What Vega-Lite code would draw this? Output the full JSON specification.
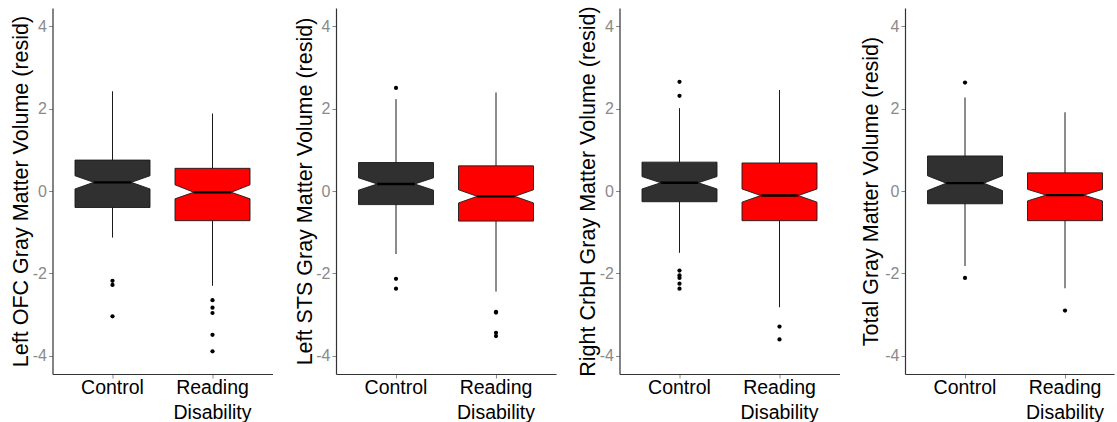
{
  "$schema": "https://vega.github.io/schema/vega-lite/v6.json",
  "background": "white",
  "padding": {"left": 9.5, "top": 5, "right": 0, "bottom": 0},
  "spacing": 20.5,
  "config": {
    "font": "Liberation Sans",
    "view": {"stroke": null},
    "axisY": {
      "grid": false,
      "labelColor": "#8a8a8a",
      "labelFontSize": 16,
      "labelPadding": 2,
      "labelExpr": "datum.value < 0 ? '-' + abs(datum.value) : '' + datum.value",
      "tickColor": "#8a8a8a",
      "tickSize": 4,
      "domainColor": "#333333",
      "domainWidth": 1.2,
      "titleFontSize": 21.5,
      "titleFontWeight": "normal",
      "titleColor": "#000000",
      "titleX": -25,
      "titleY": 183,
      "titleAngle": 270,
      "titleAlign": "center",
      "titleBaseline": "alphabetic"
    },
    "axisX": {
      "grid": false,
      "labelFontSize": 19.5,
      "labelColor": "#000000",
      "labelAngle": 0,
      "labelPadding": 0,
      "labelLineHeight": 25,
      "labelExpr": "datum.value == 'Reading Disability' ? ['Reading', 'Disability'] : datum.value",
      "tickColor": "#8a8a8a",
      "tickSize": 4,
      "domainColor": "#333333",
      "domainWidth": 1.2,
      "title": null
    }
  },
  "datasets": {
    "boxes": [
      {"panel": "OFC", "group": "Control", "value": -1.13, "upper": 2.42},
      {"panel": "OFC", "group": "Reading Disability", "value": -2.30, "upper": 1.88},
      {"panel": "STS", "group": "Control", "value": -1.53, "upper": 2.23},
      {"panel": "STS", "group": "Reading Disability", "value": -2.44, "upper": 2.39},
      {"panel": "CrbH", "group": "Control", "value": -1.50, "upper": 2.01},
      {"panel": "CrbH", "group": "Reading Disability", "value": -2.82, "upper": 2.45},
      {"panel": "Total", "group": "Control", "value": -1.82, "upper": 2.27},
      {"panel": "Total", "group": "Reading Disability", "value": -2.36, "upper": 1.91}
    ],
    "outliers": [
      {"panel": "OFC", "group": "Control", "value": -2.18},
      {"panel": "OFC", "group": "Control", "value": -2.28},
      {"panel": "OFC", "group": "Control", "value": -3.04},
      {"panel": "OFC", "group": "Reading Disability", "value": -2.65},
      {"panel": "OFC", "group": "Reading Disability", "value": -2.83},
      {"panel": "OFC", "group": "Reading Disability", "value": -2.96},
      {"panel": "OFC", "group": "Reading Disability", "value": -3.49},
      {"panel": "OFC", "group": "Reading Disability", "value": -3.89},
      {"panel": "STS", "group": "Control", "value": 2.50},
      {"panel": "STS", "group": "Control", "value": -2.13},
      {"panel": "STS", "group": "Control", "value": -2.37},
      {"panel": "STS", "group": "Reading Disability", "value": -2.93},
      {"panel": "STS", "group": "Reading Disability", "value": -2.95},
      {"panel": "STS", "group": "Reading Disability", "value": -3.44},
      {"panel": "STS", "group": "Reading Disability", "value": -3.52},
      {"panel": "CrbH", "group": "Control", "value": 2.65},
      {"panel": "CrbH", "group": "Control", "value": 2.31},
      {"panel": "CrbH", "group": "Control", "value": -1.93},
      {"panel": "CrbH", "group": "Control", "value": -2.05},
      {"panel": "CrbH", "group": "Control", "value": -2.11},
      {"panel": "CrbH", "group": "Control", "value": -2.25},
      {"panel": "CrbH", "group": "Control", "value": -2.37},
      {"panel": "CrbH", "group": "Reading Disability", "value": -3.29},
      {"panel": "CrbH", "group": "Reading Disability", "value": -3.60},
      {"panel": "Total", "group": "Control", "value": 2.63},
      {"panel": "Total", "group": "Control", "value": -2.11},
      {"panel": "Total", "group": "Reading Disability", "value": -2.90}
    ],
    "verts": [
      {"panel": "OFC", "group": "Control", "vertex": 0, "side": "1_outer_left", "stat": "q1", "value": -0.40},
      {"panel": "OFC", "group": "Control", "vertex": 1, "side": "1_outer_left", "stat": "nlo", "value": 0.05},
      {"panel": "OFC", "group": "Control", "vertex": 2, "side": "2_inner_left", "stat": "med", "value": 0.21},
      {"panel": "OFC", "group": "Control", "vertex": 3, "side": "1_outer_left", "stat": "nhi", "value": 0.37},
      {"panel": "OFC", "group": "Control", "vertex": 4, "side": "1_outer_left", "stat": "q3", "value": 0.75},
      {"panel": "OFC", "group": "Control", "vertex": 5, "side": "5_outer_right", "stat": "q3", "value": 0.75},
      {"panel": "OFC", "group": "Control", "vertex": 6, "side": "5_outer_right", "stat": "nhi", "value": 0.37},
      {"panel": "OFC", "group": "Control", "vertex": 7, "side": "4_inner_right", "stat": "med", "value": 0.21},
      {"panel": "OFC", "group": "Control", "vertex": 8, "side": "5_outer_right", "stat": "nlo", "value": 0.05},
      {"panel": "OFC", "group": "Control", "vertex": 9, "side": "5_outer_right", "stat": "q1", "value": -0.40},

      {"panel": "OFC", "group": "Reading Disability", "vertex": 0, "side": "1_outer_left", "stat": "q1", "value": -0.72},
      {"panel": "OFC", "group": "Reading Disability", "vertex": 1, "side": "1_outer_left", "stat": "nlo", "value": -0.19},
      {"panel": "OFC", "group": "Reading Disability", "vertex": 2, "side": "2_inner_left", "stat": "med", "value": -0.03},
      {"panel": "OFC", "group": "Reading Disability", "vertex": 3, "side": "1_outer_left", "stat": "nhi", "value": 0.15},
      {"panel": "OFC", "group": "Reading Disability", "vertex": 4, "side": "1_outer_left", "stat": "q3", "value": 0.55},
      {"panel": "OFC", "group": "Reading Disability", "vertex": 5, "side": "5_outer_right", "stat": "q3", "value": 0.55},
      {"panel": "OFC", "group": "Reading Disability", "vertex": 6, "side": "5_outer_right", "stat": "nhi", "value": 0.15},
      {"panel": "OFC", "group": "Reading Disability", "vertex": 7, "side": "4_inner_right", "stat": "med", "value": -0.03},
      {"panel": "OFC", "group": "Reading Disability", "vertex": 8, "side": "5_outer_right", "stat": "nlo", "value": -0.19},
      {"panel": "OFC", "group": "Reading Disability", "vertex": 9, "side": "5_outer_right", "stat": "q1", "value": -0.72},

      {"panel": "STS", "group": "Control", "vertex": 0, "side": "1_outer_left", "stat": "q1", "value": -0.33},
      {"panel": "STS", "group": "Control", "vertex": 1, "side": "1_outer_left", "stat": "nlo", "value": 0.02},
      {"panel": "STS", "group": "Control", "vertex": 2, "side": "2_inner_left", "stat": "med", "value": 0.17},
      {"panel": "STS", "group": "Control", "vertex": 3, "side": "1_outer_left", "stat": "nhi", "value": 0.32},
      {"panel": "STS", "group": "Control", "vertex": 4, "side": "1_outer_left", "stat": "q3", "value": 0.69},
      {"panel": "STS", "group": "Control", "vertex": 5, "side": "5_outer_right", "stat": "q3", "value": 0.69},
      {"panel": "STS", "group": "Control", "vertex": 6, "side": "5_outer_right", "stat": "nhi", "value": 0.32},
      {"panel": "STS", "group": "Control", "vertex": 7, "side": "4_inner_right", "stat": "med", "value": 0.17},
      {"panel": "STS", "group": "Control", "vertex": 8, "side": "5_outer_right", "stat": "nlo", "value": 0.02},
      {"panel": "STS", "group": "Control", "vertex": 9, "side": "5_outer_right", "stat": "q1", "value": -0.33},

      {"panel": "STS", "group": "Reading Disability", "vertex": 0, "side": "1_outer_left", "stat": "q1", "value": -0.73},
      {"panel": "STS", "group": "Reading Disability", "vertex": 1, "side": "1_outer_left", "stat": "nlo", "value": -0.29},
      {"panel": "STS", "group": "Reading Disability", "vertex": 2, "side": "2_inner_left", "stat": "med", "value": -0.13},
      {"panel": "STS", "group": "Reading Disability", "vertex": 3, "side": "1_outer_left", "stat": "nhi", "value": 0.03},
      {"panel": "STS", "group": "Reading Disability", "vertex": 4, "side": "1_outer_left", "stat": "q3", "value": 0.61},
      {"panel": "STS", "group": "Reading Disability", "vertex": 5, "side": "5_outer_right", "stat": "q3", "value": 0.61},
      {"panel": "STS", "group": "Reading Disability", "vertex": 6, "side": "5_outer_right", "stat": "nhi", "value": 0.03},
      {"panel": "STS", "group": "Reading Disability", "vertex": 7, "side": "4_inner_right", "stat": "med", "value": -0.13},
      {"panel": "STS", "group": "Reading Disability", "vertex": 8, "side": "5_outer_right", "stat": "nlo", "value": -0.29},
      {"panel": "STS", "group": "Reading Disability", "vertex": 9, "side": "5_outer_right", "stat": "q1", "value": -0.73},

      {"panel": "CrbH", "group": "Control", "vertex": 0, "side": "1_outer_left", "stat": "q1", "value": -0.26},
      {"panel": "CrbH", "group": "Control", "vertex": 1, "side": "1_outer_left", "stat": "nlo", "value": 0.05},
      {"panel": "CrbH", "group": "Control", "vertex": 2, "side": "2_inner_left", "stat": "med", "value": 0.20},
      {"panel": "CrbH", "group": "Control", "vertex": 3, "side": "1_outer_left", "stat": "nhi", "value": 0.35},
      {"panel": "CrbH", "group": "Control", "vertex": 4, "side": "1_outer_left", "stat": "q3", "value": 0.70},
      {"panel": "CrbH", "group": "Control", "vertex": 5, "side": "5_outer_right", "stat": "q3", "value": 0.70},
      {"panel": "CrbH", "group": "Control", "vertex": 6, "side": "5_outer_right", "stat": "nhi", "value": 0.35},
      {"panel": "CrbH", "group": "Control", "vertex": 7, "side": "4_inner_right", "stat": "med", "value": 0.20},
      {"panel": "CrbH", "group": "Control", "vertex": 8, "side": "5_outer_right", "stat": "nlo", "value": 0.05},
      {"panel": "CrbH", "group": "Control", "vertex": 9, "side": "5_outer_right", "stat": "q1", "value": -0.26},

      {"panel": "CrbH", "group": "Reading Disability", "vertex": 0, "side": "1_outer_left", "stat": "q1", "value": -0.72},
      {"panel": "CrbH", "group": "Reading Disability", "vertex": 1, "side": "1_outer_left", "stat": "nlo", "value": -0.27},
      {"panel": "CrbH", "group": "Reading Disability", "vertex": 2, "side": "2_inner_left", "stat": "med", "value": -0.11},
      {"panel": "CrbH", "group": "Reading Disability", "vertex": 3, "side": "1_outer_left", "stat": "nhi", "value": 0.05},
      {"panel": "CrbH", "group": "Reading Disability", "vertex": 4, "side": "1_outer_left", "stat": "q3", "value": 0.68},
      {"panel": "CrbH", "group": "Reading Disability", "vertex": 5, "side": "5_outer_right", "stat": "q3", "value": 0.68},
      {"panel": "CrbH", "group": "Reading Disability", "vertex": 6, "side": "5_outer_right", "stat": "nhi", "value": 0.05},
      {"panel": "CrbH", "group": "Reading Disability", "vertex": 7, "side": "4_inner_right", "stat": "med", "value": -0.11},
      {"panel": "CrbH", "group": "Reading Disability", "vertex": 8, "side": "5_outer_right", "stat": "nlo", "value": -0.27},
      {"panel": "CrbH", "group": "Reading Disability", "vertex": 9, "side": "5_outer_right", "stat": "q1", "value": -0.72},

      {"panel": "Total", "group": "Control", "vertex": 0, "side": "1_outer_left", "stat": "q1", "value": -0.31},
      {"panel": "Total", "group": "Control", "vertex": 1, "side": "1_outer_left", "stat": "nlo", "value": 0.01},
      {"panel": "Total", "group": "Control", "vertex": 2, "side": "2_inner_left", "stat": "med", "value": 0.19},
      {"panel": "Total", "group": "Control", "vertex": 3, "side": "1_outer_left", "stat": "nhi", "value": 0.37},
      {"panel": "Total", "group": "Control", "vertex": 4, "side": "1_outer_left", "stat": "q3", "value": 0.85},
      {"panel": "Total", "group": "Control", "vertex": 5, "side": "5_outer_right", "stat": "q3", "value": 0.85},
      {"panel": "Total", "group": "Control", "vertex": 6, "side": "5_outer_right", "stat": "nhi", "value": 0.37},
      {"panel": "Total", "group": "Control", "vertex": 7, "side": "4_inner_right", "stat": "med", "value": 0.19},
      {"panel": "Total", "group": "Control", "vertex": 8, "side": "5_outer_right", "stat": "nlo", "value": 0.01},
      {"panel": "Total", "group": "Control", "vertex": 9, "side": "5_outer_right", "stat": "q1", "value": -0.31},

      {"panel": "Total", "group": "Reading Disability", "vertex": 0, "side": "1_outer_left", "stat": "q1", "value": -0.72},
      {"panel": "Total", "group": "Reading Disability", "vertex": 1, "side": "1_outer_left", "stat": "nlo", "value": -0.24},
      {"panel": "Total", "group": "Reading Disability", "vertex": 2, "side": "2_inner_left", "stat": "med", "value": -0.10},
      {"panel": "Total", "group": "Reading Disability", "vertex": 3, "side": "1_outer_left", "stat": "nhi", "value": 0.04},
      {"panel": "Total", "group": "Reading Disability", "vertex": 4, "side": "1_outer_left", "stat": "q3", "value": 0.44},
      {"panel": "Total", "group": "Reading Disability", "vertex": 5, "side": "5_outer_right", "stat": "q3", "value": 0.44},
      {"panel": "Total", "group": "Reading Disability", "vertex": 6, "side": "5_outer_right", "stat": "nhi", "value": 0.04},
      {"panel": "Total", "group": "Reading Disability", "vertex": 7, "side": "4_inner_right", "stat": "med", "value": -0.10},
      {"panel": "Total", "group": "Reading Disability", "vertex": 8, "side": "5_outer_right", "stat": "nlo", "value": -0.24},
      {"panel": "Total", "group": "Reading Disability", "vertex": 9, "side": "5_outer_right", "stat": "q1", "value": -0.72}
    ]
  },
  "hconcat": [
    {
      "width": 220, "height": 366,
      "encoding": {
        "x": {"field": "group", "type": "nominal", "scale": {"domain": ["Control", "Reading Disability"], "paddingInner": 0.25, "paddingOuter": 0.225}},
        "y": {"field": "value", "type": "quantitative", "title": "Left OFC Gray Matter Volume (resid)", "axis": {"values": [-4, -2, 0, 2, 4]}, "scale": {"domain": [-4.44, 4.44], "nice": false, "zero": false}}
      },
      "layer": [
        {"data": {"name": "boxes"}, "transform": [{"filter": "datum.panel == 'OFC'"}],
         "mark": {"type": "rule", "color": "#1a1a1a", "strokeWidth": 1},
         "encoding": {"y2": {"field": "upper"}}},
        {"data": {"name": "verts"}, "transform": [{"filter": "datum.panel == 'OFC'"}],
         "mark": {"type": "line", "interpolate": "linear-closed", "stroke": "#1a1a1a", "strokeWidth": 0.9},
         "encoding": {
           "xOffset": {"field": "side", "type": "ordinal", "scale": {"type": "point", "domain": ["1_outer_left", "2_inner_left", "3_center", "4_inner_right", "5_outer_right"], "range": [0, 75], "padding": 0}},
           "order": {"field": "vertex", "type": "quantitative"},
           "detail": {"field": "group"},
           "fill": {"field": "group", "type": "nominal", "scale": {"domain": ["Control", "Reading Disability"], "range": ["#303030", "#ff0000"]}, "legend": null}
         }},
        {"data": {"name": "verts"}, "transform": [{"filter": "datum.panel == 'OFC' && datum.stat == 'med'"}],
         "mark": {"type": "line", "stroke": "#000000", "strokeWidth": 2.4},
         "encoding": {
           "xOffset": {"field": "side", "type": "ordinal", "scale": {"type": "point", "domain": ["1_outer_left", "2_inner_left", "3_center", "4_inner_right", "5_outer_right"], "range": [0, 75], "padding": 0}},
           "order": {"field": "vertex", "type": "quantitative"},
           "detail": {"field": "group"}
         }},
        {"data": {"name": "outliers"}, "transform": [{"filter": "datum.panel == 'OFC'"}],
         "mark": {"type": "circle", "color": "#000000", "size": 18, "opacity": 1}}
      ]
    },
    {
      "width": 220, "height": 366,
      "encoding": {
        "x": {"field": "group", "type": "nominal", "scale": {"domain": ["Control", "Reading Disability"], "paddingInner": 0.25, "paddingOuter": 0.225}},
        "y": {"field": "value", "type": "quantitative", "title": "Left STS Gray Matter Volume (resid)", "axis": {"values": [-4, -2, 0, 2, 4]}, "scale": {"domain": [-4.44, 4.44], "nice": false, "zero": false}}
      },
      "layer": [
        {"data": {"name": "boxes"}, "transform": [{"filter": "datum.panel == 'STS'"}],
         "mark": {"type": "rule", "color": "#1a1a1a", "strokeWidth": 1},
         "encoding": {"y2": {"field": "upper"}}},
        {"data": {"name": "verts"}, "transform": [{"filter": "datum.panel == 'STS'"}],
         "mark": {"type": "line", "interpolate": "linear-closed", "stroke": "#1a1a1a", "strokeWidth": 0.9},
         "encoding": {
           "xOffset": {"field": "side", "type": "ordinal", "scale": {"type": "point", "domain": ["1_outer_left", "2_inner_left", "3_center", "4_inner_right", "5_outer_right"], "range": [0, 75], "padding": 0}},
           "order": {"field": "vertex", "type": "quantitative"},
           "detail": {"field": "group"},
           "fill": {"field": "group", "type": "nominal", "scale": {"domain": ["Control", "Reading Disability"], "range": ["#303030", "#ff0000"]}, "legend": null}
         }},
        {"data": {"name": "verts"}, "transform": [{"filter": "datum.panel == 'STS' && datum.stat == 'med'"}],
         "mark": {"type": "line", "stroke": "#000000", "strokeWidth": 2.4},
         "encoding": {
           "xOffset": {"field": "side", "type": "ordinal", "scale": {"type": "point", "domain": ["1_outer_left", "2_inner_left", "3_center", "4_inner_right", "5_outer_right"], "range": [0, 75], "padding": 0}},
           "order": {"field": "vertex", "type": "quantitative"},
           "detail": {"field": "group"}
         }},
        {"data": {"name": "outliers"}, "transform": [{"filter": "datum.panel == 'STS'"}],
         "mark": {"type": "circle", "color": "#000000", "size": 18, "opacity": 1}}
      ]
    },
    {
      "width": 220, "height": 366,
      "encoding": {
        "x": {"field": "group", "type": "nominal", "scale": {"domain": ["Control", "Reading Disability"], "paddingInner": 0.25, "paddingOuter": 0.225}},
        "y": {"field": "value", "type": "quantitative", "title": "Right CrbH Gray Matter Volume (resid)", "axis": {"values": [-4, -2, 0, 2, 4]}, "scale": {"domain": [-4.44, 4.44], "nice": false, "zero": false}}
      },
      "layer": [
        {"data": {"name": "boxes"}, "transform": [{"filter": "datum.panel == 'CrbH'"}],
         "mark": {"type": "rule", "color": "#1a1a1a", "strokeWidth": 1},
         "encoding": {"y2": {"field": "upper"}}},
        {"data": {"name": "verts"}, "transform": [{"filter": "datum.panel == 'CrbH'"}],
         "mark": {"type": "line", "interpolate": "linear-closed", "stroke": "#1a1a1a", "strokeWidth": 0.9},
         "encoding": {
           "xOffset": {"field": "side", "type": "ordinal", "scale": {"type": "point", "domain": ["1_outer_left", "2_inner_left", "3_center", "4_inner_right", "5_outer_right"], "range": [0, 75], "padding": 0}},
           "order": {"field": "vertex", "type": "quantitative"},
           "detail": {"field": "group"},
           "fill": {"field": "group", "type": "nominal", "scale": {"domain": ["Control", "Reading Disability"], "range": ["#303030", "#ff0000"]}, "legend": null}
         }},
        {"data": {"name": "verts"}, "transform": [{"filter": "datum.panel == 'CrbH' && datum.stat == 'med'"}],
         "mark": {"type": "line", "stroke": "#000000", "strokeWidth": 2.4},
         "encoding": {
           "xOffset": {"field": "side", "type": "ordinal", "scale": {"type": "point", "domain": ["1_outer_left", "2_inner_left", "3_center", "4_inner_right", "5_outer_right"], "range": [0, 75], "padding": 0}},
           "order": {"field": "vertex", "type": "quantitative"},
           "detail": {"field": "group"}
         }},
        {"data": {"name": "outliers"}, "transform": [{"filter": "datum.panel == 'CrbH'"}],
         "mark": {"type": "circle", "color": "#000000", "size": 18, "opacity": 1}}
      ]
    },
    {
      "width": 209, "height": 366,
      "encoding": {
        "x": {"field": "group", "type": "nominal", "scale": {"domain": ["Control", "Reading Disability"], "paddingInner": 0.25, "paddingOuter": 0.17, "align": 0.662}},
        "y": {"field": "value", "type": "quantitative", "title": "Total Gray Matter Volume (resid)", "axis": {"values": [-4, -2, 0, 2, 4], "titleX": -27.5}, "scale": {"domain": [-4.44, 4.44], "nice": false, "zero": false}}
      },
      "layer": [
        {"data": {"name": "boxes"}, "transform": [{"filter": "datum.panel == 'Total'"}],
         "mark": {"type": "rule", "color": "#1a1a1a", "strokeWidth": 1},
         "encoding": {"y2": {"field": "upper"}}},
        {"data": {"name": "verts"}, "transform": [{"filter": "datum.panel == 'Total'"}],
         "mark": {"type": "line", "interpolate": "linear-closed", "stroke": "#1a1a1a", "strokeWidth": 0.9},
         "encoding": {
           "xOffset": {"field": "side", "type": "ordinal", "scale": {"type": "point", "domain": ["1_outer_left", "2_inner_left", "3_center", "4_inner_right", "5_outer_right"], "range": [0, 75], "padding": 0}},
           "order": {"field": "vertex", "type": "quantitative"},
           "detail": {"field": "group"},
           "fill": {"field": "group", "type": "nominal", "scale": {"domain": ["Control", "Reading Disability"], "range": ["#303030", "#ff0000"]}, "legend": null}
         }},
        {"data": {"name": "verts"}, "transform": [{"filter": "datum.panel == 'Total' && datum.stat == 'med'"}],
         "mark": {"type": "line", "stroke": "#000000", "strokeWidth": 2.4},
         "encoding": {
           "xOffset": {"field": "side", "type": "ordinal", "scale": {"type": "point", "domain": ["1_outer_left", "2_inner_left", "3_center", "4_inner_right", "5_outer_right"], "range": [0, 75], "padding": 0}},
           "order": {"field": "vertex", "type": "quantitative"},
           "detail": {"field": "group"}
         }},
        {"data": {"name": "outliers"}, "transform": [{"filter": "datum.panel == 'Total'"}],
         "mark": {"type": "circle", "color": "#000000", "size": 18, "opacity": 1}}
      ]
    }
  ]
}
